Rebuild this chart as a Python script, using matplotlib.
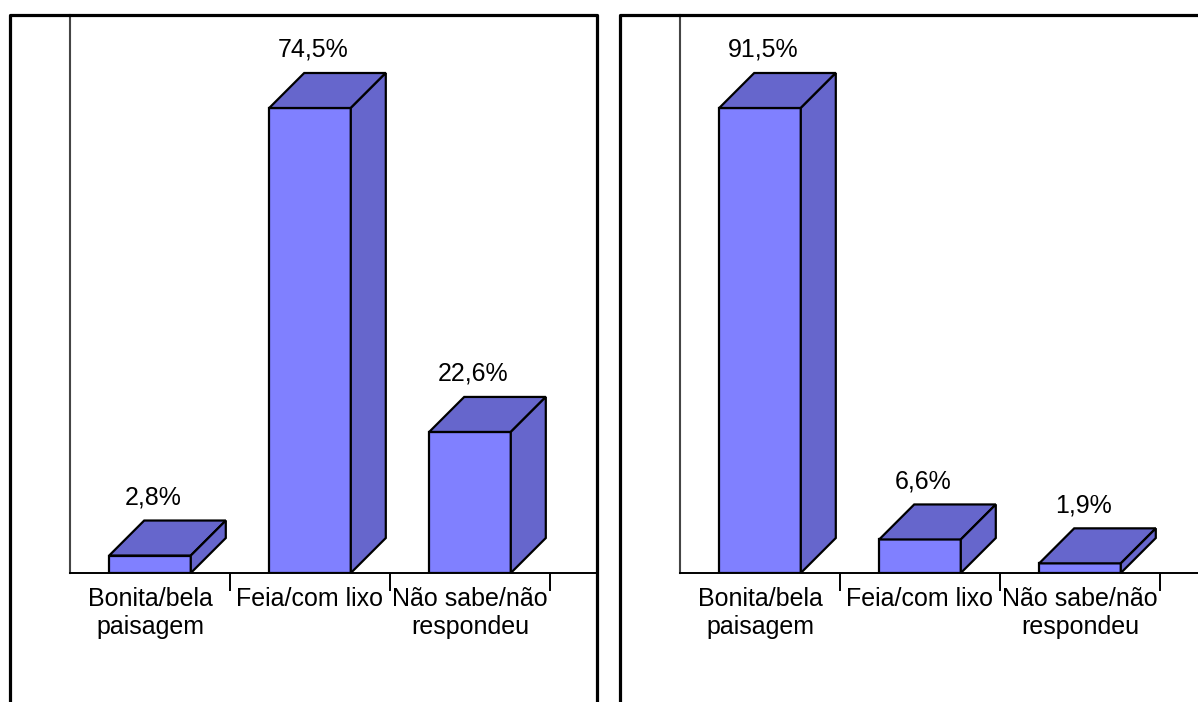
import matplotlib
matplotlib.use('Agg')
import matplotlib.pyplot as plt
from matplotlib.lines import Line2D

plt.rcParams['font.family'] = ['Liberation Sans', 'DejaVu Sans']

categorias = ['Bonita/bela\npaisagem', 'Feia/com lixo', 'Não sabe/não\nrespondeu']
valores_esq = [2.8, 74.5, 22.6]
valores_dir = [91.5, 6.6, 1.9]
rotulos_esq = ['2,8%', '74,5%', '22,6%']
rotulos_dir = ['91,5%', '6,6%', '1,9%']

W, H = 1198, 702
FRENTE = '#8080FF'
LADO = '#6666CC'
PROF_PX = 35      # 3d depth offset in pixels
LARG = 0.51       # bar width in category units


def px(x, y, w, h):
    # pixel box (top-left origin) -> figure fraction
    return [x / W, 1 - (y + h) / H, w / W, h / H]


def grafico(fig, ax, valores, rotulos, ymax, xmax):
    ax.set_xlim(-0.5, xmax)
    ax.set_ylim(0, ymax)
    ax.set_facecolor('none')
    for s in ('top', 'right'):
        ax.spines[s].set_visible(False)
    ax.spines['left'].set_color('#454545')
    ax.spines['left'].set_linewidth(1.5)
    ax.spines['bottom'].set_linewidth(1.4)
    ax.set_yticks([])

    # depth offset in data units
    bb = ax.get_position()
    dx = PROF_PX / (bb.width * W) * (xmax + 0.5)
    dy = PROF_PX / (bb.height * H) * ymax

    xs = list(range(len(valores)))
    ax.bar(xs, valores, width=LARG, color=FRENTE, edgecolor='black',
           linewidth=1.6, zorder=3)
    for x, v, r in zip(xs, valores, rotulos):
        x0, x1 = x - LARG / 2, x + LARG / 2
        # top face
        ax.fill([x0, x1, x1 + dx, x0 + dx], [v, v, v + dy, v + dy],
                facecolor=LADO, edgecolor='black', linewidth=1.6, zorder=3)
        # side face
        ax.fill([x1, x1 + dx, x1 + dx, x1], [0, dy, v + dy, v],
                facecolor=LADO, edgecolor='black', linewidth=1.6, zorder=3)
        ax.annotate(r, (x + 0.02, v + dy), xytext=(0, 8),
                    textcoords='offset points', ha='center', va='bottom',
                    fontsize=18, annotation_clip=False)

    ax.set_xticks(xs)
    ax.set_xticklabels(categorias, fontsize=18, linespacing=1.2)
    ax.tick_params(axis='x', which='major', length=0, pad=10)
    ax.set_xticks([0.5, 1.5, 2.5], minor=True)
    ax.tick_params(axis='x', which='minor', length=13, width=1.4,
                   direction='out')


fig = plt.figure(figsize=(W / 100, H / 100), dpi=100)

ax1 = fig.add_axes(px(70, 15, 527, 558))
grafico(fig, ax1, valores_esq, rotulos_esq,
        ymax=558 / 465 * max(valores_esq), xmax=(597 - 70) / 160 - 0.5)

ax2 = fig.add_axes(px(680, 15, 518, 558))
grafico(fig, ax2, valores_dir, rotulos_dir,
        ymax=558 / 465 * max(valores_dir), xmax=(1198 - 680) / 160 - 0.5)

# panel frames
def linha(xs, ys):
    fig.add_artist(Line2D([x / W for x in xs], [1 - y / H for y in ys],
                          color='black', linewidth=2.3,
                          solid_capstyle='projecting'))

linha([10, 10, 597, 597], [710, 15, 15, 710])
linha([620, 620, 1210], [710, 15, 15])

fig.savefig('out.png', dpi=100)
